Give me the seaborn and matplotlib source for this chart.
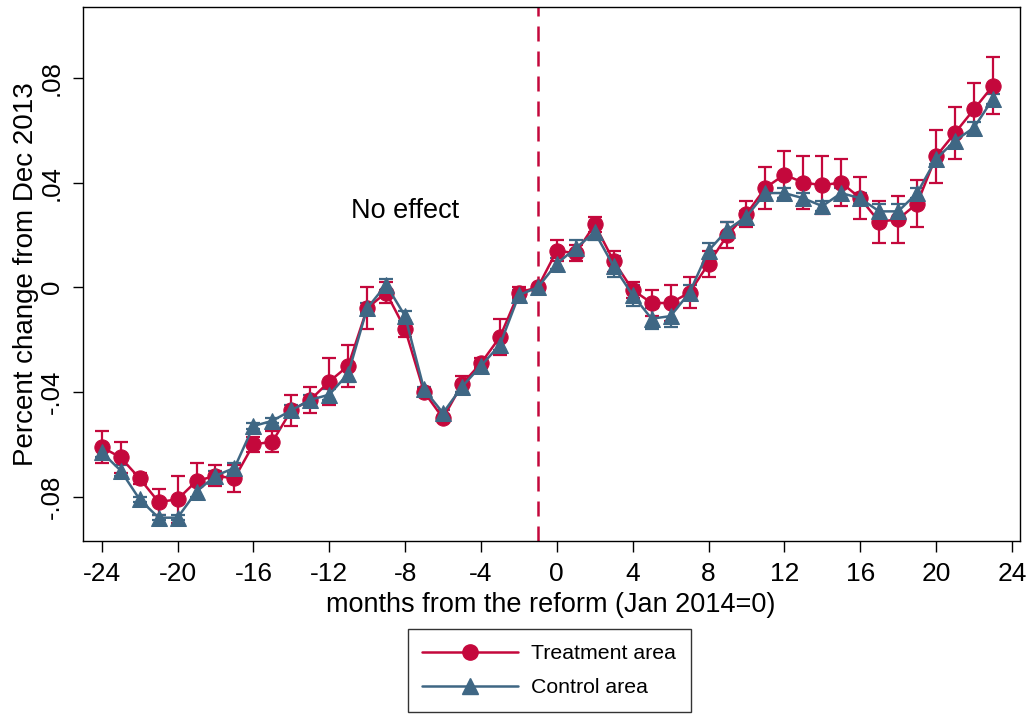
import numpy as np
import pandas as pd
import seaborn as sns
import matplotlib
matplotlib.use("Agg")
import matplotlib.pyplot as plt
from matplotlib.lines import Line2D

months = list(range(-24, 24))

treatment = [-0.061, -0.065, -0.073, -0.082, -0.081, -0.074, -0.072, -0.073,
             -0.060, -0.059, -0.047, -0.043, -0.036, -0.030, -0.008, -0.002,
             -0.016, -0.040, -0.050, -0.037, -0.029, -0.019, -0.002, 0.000,
             0.014, 0.013, 0.024, 0.010, -0.001, -0.006, -0.006, -0.002,
             0.009, 0.020, 0.028, 0.038, 0.043, 0.040, 0.039, 0.040,
             0.034, 0.025, 0.026, 0.032, 0.050, 0.059, 0.068, 0.077]
treatment_err = [0.006, 0.006, 0.002, 0.005, 0.009, 0.007, 0.004, 0.005,
                 0.003, 0.004, 0.006, 0.005, 0.009, 0.008, 0.008, 0.004,
                 0.003, 0.001, 0.001, 0.003, 0.002, 0.007, 0.002, 0.000,
                 0.004, 0.003, 0.003, 0.004, 0.003, 0.005, 0.007, 0.006,
                 0.005, 0.005, 0.005, 0.008, 0.009, 0.010, 0.011, 0.009,
                 0.008, 0.008, 0.009, 0.009, 0.010, 0.010, 0.010, 0.011]

control = [-0.063, -0.070, -0.081, -0.088, -0.088, -0.078, -0.072, -0.069,
           -0.053, -0.051, -0.047, -0.043, -0.041, -0.033, -0.008, 0.001,
           -0.011, -0.039, -0.048, -0.038, -0.030, -0.022, -0.003, 0.000,
           0.009, 0.015, 0.021, 0.008, -0.003, -0.012, -0.011, -0.002,
           0.014, 0.022, 0.027, 0.036, 0.036, 0.034, 0.031, 0.036,
           0.034, 0.029, 0.029, 0.036, 0.049, 0.056, 0.061, 0.072]
control_err = [0.002, 0.002, 0.001, 0.001, 0.001, 0.002, 0.002, 0.002,
               0.001, 0.001, 0.002, 0.002, 0.002, 0.003, 0.002, 0.002,
               0.002, 0.001, 0.001, 0.002, 0.002, 0.002, 0.002, 0.000,
               0.002, 0.003, 0.003, 0.004, 0.004, 0.004, 0.004, 0.003,
               0.003, 0.003, 0.002, 0.002, 0.002, 0.002, 0.002, 0.002,
               0.002, 0.003, 0.003, 0.002, 0.002, 0.002, 0.002, 0.002]

red = '#C4083C'
blue = '#3F6784'

df = pd.DataFrame({
    'month': months * 2,
    'value': treatment + control,
    'err': treatment_err + control_err,
    'group': ['Treatment area'] * len(months) + ['Control area'] * len(months),
})

sns.set_style('white')
plt.rcParams['font.family'] = ['Liberation Sans', 'DejaVu Sans']
plt.rcParams['axes.unicode_minus'] = False
for k in ['text.color', 'axes.labelcolor', 'xtick.color', 'ytick.color']:
    plt.rcParams[k] = 'black'

fig = plt.figure(figsize=(10.34, 7.15), dpi=100)
ax = fig.add_axes([0.080, 0.243, 0.906, 0.747])

styles = {'Treatment area': (red, 'o', 11), 'Control area': (blue, '^', 11.5)}
for name in ['Treatment area', 'Control area']:
    sub = df[df['group'] == name]
    color, marker, ms = styles[name]
    ax.errorbar(sub['month'], sub['value'], yerr=sub['err'], fmt='none',
                ecolor=color, elinewidth=1.6, capsize=5, capthick=1.6, zorder=2)
    sns.lineplot(data=sub, x='month', y='value', ax=ax, color=color,
                 marker=marker, markersize=ms, markeredgecolor=color,
                 linewidth=1.8, zorder=3, legend=False)

ax.axvline(-1, color=red, linestyle=(0, (6, 4)), linewidth=1.8, zorder=1)
ax.text(-8, 0.029, 'No effect', fontsize=19.5, ha='center', va='center')

ax.set_xlim(-25, 24.4)
ax.set_ylim(-0.097, 0.107)
ax.set_xticks(range(-24, 25, 4))
yt = [-0.08, -0.04, 0, 0.04, 0.08]
ax.set_yticks(yt)
ax.set_yticklabels(['-.08', '-.04', '0', '.04', '.08'], rotation=90, va='center')
ax.tick_params(axis='x', direction='out', length=8, width=1, labelsize=19,
               pad=7, bottom=True)
ax.tick_params(axis='y', direction='out', length=7.5, width=1, labelsize=18.5,
               pad=6, left=True)
ax.set_xlabel('months from the reform (Jan 2014=0)', fontsize=19.5, labelpad=4)
ax.set_ylabel('Percent change from Dec 2013', fontsize=20, labelpad=0.5)
for s in ax.spines.values():
    s.set_color('black')
    s.set_linewidth(1)

handles = [Line2D([], [], color=red, marker='o', markersize=11, linewidth=1.8),
           Line2D([], [], color=blue, marker='^', markersize=11.5, linewidth=1.8)]
leg = fig.legend(handles, ['Treatment area', 'Control area'], loc='center',
                 bbox_to_anchor=(0.531, 0.0622), fontsize=15.3, frameon=True,
                 fancybox=False, edgecolor='black', handlelength=4.5,
                 borderpad=0.7, labelspacing=0.7, handletextpad=0.6,
                 borderaxespad=0)
leg.get_frame().set_linewidth(1)

fig.savefig('out.png', dpi=100)
